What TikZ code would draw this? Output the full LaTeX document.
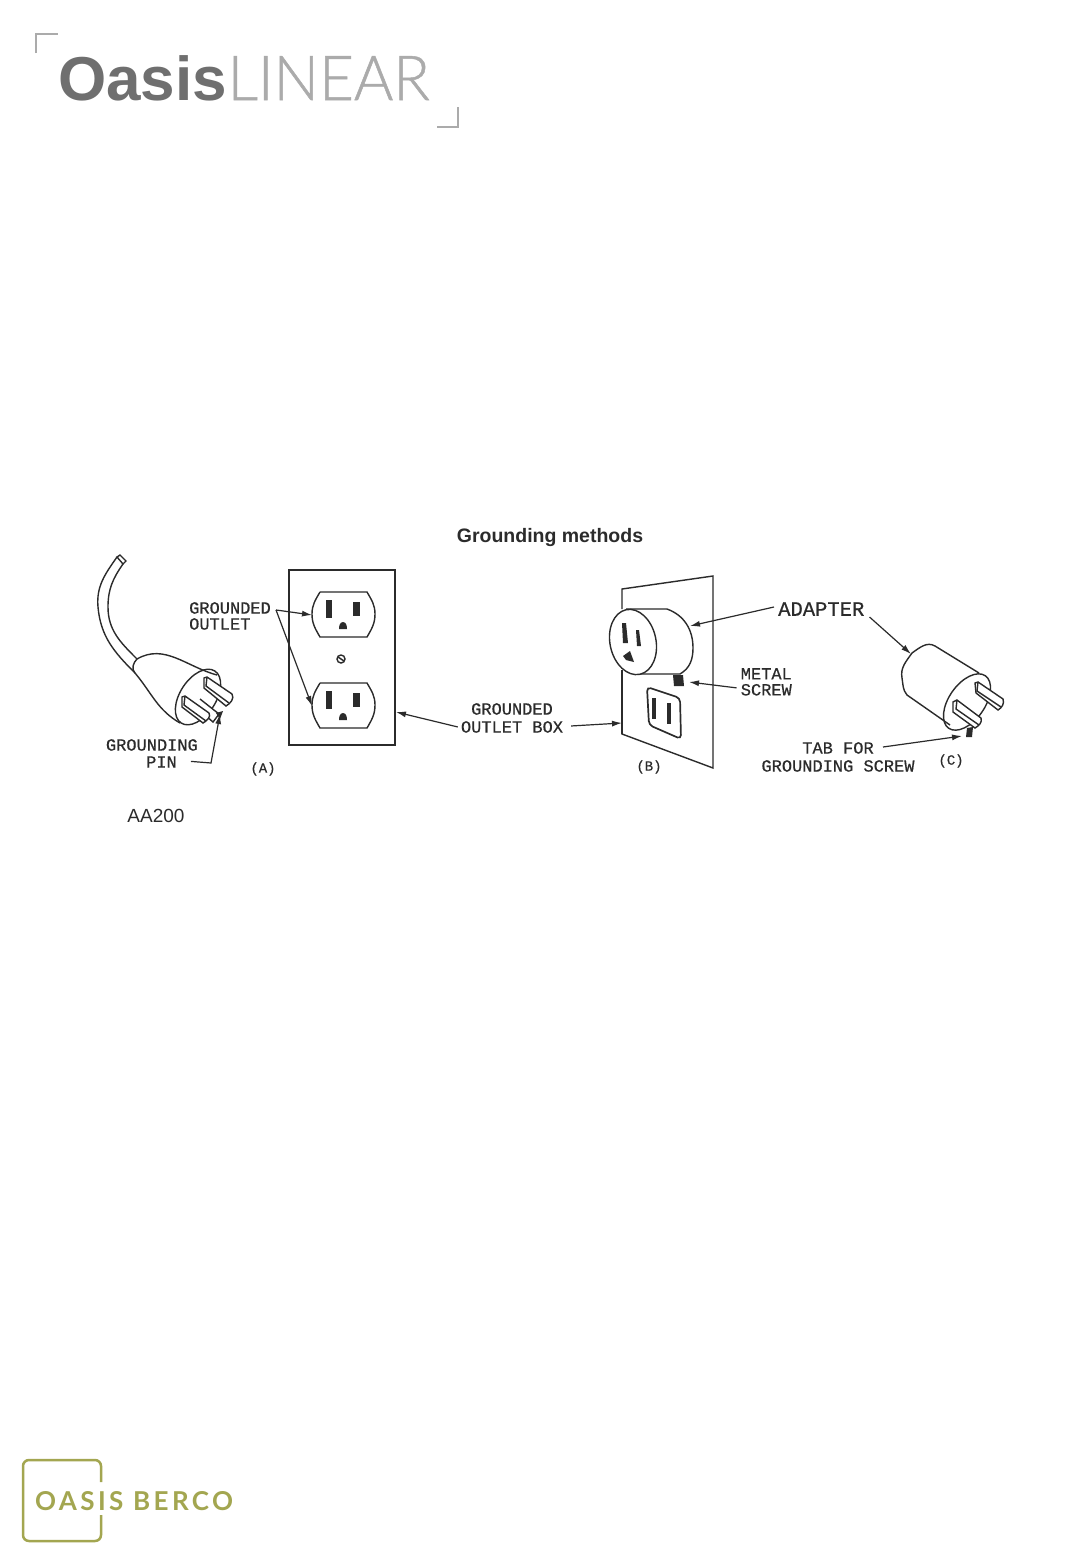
\documentclass[tikz,border=0pt]{standalone}
\usepackage{fontspec}
\usetikzlibrary{arrows.meta}
\setmainfont{Liberation Sans}
\newfontfamily\drawfont[FakeBold=0.5]{Liberation Mono}
\newfontfamily\lightfont[FakeBold=0.8]{Lato Light}
\newfontfamily\bercofont[LetterSpace=13]{Lato Bold}
\definecolor{logogray}{HTML}{6F6F6F}
\definecolor{logolight}{HTML}{ABABAB}
\definecolor{berco}{HTML}{A3A650}
\definecolor{inkgray}{HTML}{2B2B2B}
\tikzset{
	callout/.style={font=\drawfont\fontsize{17}{16}\selectfont, text=inkgray, inner sep=0pt, align=center},
	partname/.style={font=\drawfont\fontsize{14}{16}\selectfont, text=inkgray, inner sep=0pt},
	leader/.style={-{Latex[length=10pt,width=6pt]}, line width=1.2pt, color=inkgray},
	outline/.style={line width=1.4pt, color=inkgray},
	bracket/.style={line width=1.5pt, color=logolight}
}
\begin{document}
\begin{tikzpicture}[x=1pt,y=-1pt]
	\useasboundingbox (0,0) rectangle (1081,1561);
	\fill[white] (0,0) rectangle (1081,1561);
	\draw[bracket] (36,53) -- (36,34) -- (58,34);
	\draw[bracket] (437,127) -- (458,127) -- (458,107);
	\node[anchor=base west, inner sep=0pt, text=logogray, font=\bfseries\fontsize{62}{62}\selectfont] (oasis) at (58,100) {Oasis};
	\node[anchor=base west, inner sep=0pt, text=logolight, xscale=0.97, font=\lightfont\fontsize{62}{62}\selectfont] (linear) at (oasis.base east) {LINEAR};
	\node[inner sep=0pt, text=inkgray, font=\bfseries\fontsize{19.5}{20}\selectfont] (title) at (550,537) {Grounding methods};
	% plug (A)
	\draw[outline] (117,557) -- (120,555) -- (126,561) -- (123,564) -- cycle;
	\draw[outline] (117,557) to[out=-125, in=95] (98,607) to[out=-85, in=135] (135,673);
	\draw[outline] (123,564) to[out=-125, in=90] (108,607) to[out=-90, in=135] (137,659);
	\draw[outline] (137,659) to[out=30, in=165] (217,675);
	\draw[outline] (137,659) to[out=-135, in=135] (135,673);
	\draw[outline] (135,673) to[out=-50, in=150] (180,723);
	\draw[outline] (198,697) ellipse [x radius=31, y radius=18, rotate=57];
	\draw[outline, fill=white] (204,678) -- (207,677) -- (232,694) to[out=-60, in=30] (226,706) -- (204,688) -- cycle;
	\draw[outline] (207,677) -- (206,686) -- (229,703);
	\draw[outline, fill=white] (200,699) -- (219,714) -- (213,722) -- (198,709);
	\draw[outline, fill=white] (182,697) -- (185,696) -- (209,713) to[out=-60, in=30] (203,723) -- (182,707) -- cycle;
	\draw[outline] (185,696) -- (184,705) -- (206,721);
	\fill[inkgray] (216,713) -- (223,711) -- (220,719) -- cycle;
	% outlet (A)
	\draw[line width=2pt, color=inkgray] (289,570) rectangle (395,745);
	\foreach \y [count=\n] in {592,683} {
		\coordinate (outlet\n) at (312,\y+23);
		\draw[outline] (320,\y) -- (367,\y) to[out=-60, in=90] (375,\y+22) to[out=-90, in=60] (367,\y+45) -- (320,\y+45) to[out=120, in=-90] (312,\y+22) to[out=90, in=-120] (320,\y);
		\fill[inkgray] (326,\y+8) rectangle (332,\y+26);
		\fill[inkgray] (353,\y+10) rectangle (360,\y+24);
		\fill[inkgray] (339,\y+37) -- (347,\y+37) to[out=90, in=0] (343,\y+30) to[out=180, in=90] (339,\y+37);
	}
	\draw[outline] (341,659) circle (4);
	\draw[line width=1.4pt, color=inkgray] (338,657) -- (344,661);
	\node[partname] (A) at (263,769) {(A)};
	\node[callout, anchor=north west, align=left] (groundedoutlet) at (189,602) {GROUNDED\\OUTLET};
	\draw[leader] ([shift={(5pt,6pt)}]groundedoutlet.east) -- (outlet1);
	\draw[leader] ([shift={(5pt,6pt)}]groundedoutlet.east) -- (outlet2);
	\node[callout, anchor=north east, align=right] (groundingpin) at (198,739) {GROUNDING\\[1pt]PIN\kern21pt};
	\coordinate (pinbend) at (211,763);
	\coordinate (pintip) at (220,714);
	\draw[leader] ([shift={(-7pt,-8pt)}]groundingpin.east) -- (pinbend) -- (pintip);
	\node[font=\fontsize{19}{19}\selectfont, text=inkgray, inner sep=0pt] (partno) at (156,816) {AA200};
	% wall (B)
	\draw[outline] (622,609) -- (622,589) -- (713,576) -- (713,768) -- (622,734) -- (622,670);
	\draw[line width=2pt, color=inkgray] (622,734) -- (622,670);
	\draw[outline] (626,609) -- (667,609) to[out=-20, in=90] (693,648) to[out=-90, in=30] (680,674) -- (636,674);
	\draw[outline, fill=white] (633,642) ellipse [x radius=23, y radius=33, rotate=12];
	\fill[inkgray] (622,623) -- (626,623) -- (628,643) -- (623,643) -- cycle;
	\fill[inkgray] (636,630) -- (639,630) -- (641,646) -- (637,646) -- cycle;
	\fill[inkgray] (623,656) -- (630,651) -- (634,662) -- (626,660) -- cycle;
	\fill[inkgray] (673,675) -- (683,675) -- (684,686) -- (674,686) -- cycle;
	\coordinate (screw) at (689,682);
	\coordinate (adapterB) at (690,626);
	\coordinate (wallB) at (622,723);
	\draw[line width=1.7pt, color=inkgray, rounded corners=4] (647,687) -- (680,698) -- (681,739) -- (649,725) -- cycle;
	\draw[line width=3.5pt, color=inkgray] (654,698) -- (654,719);
	\draw[line width=3.5pt, color=inkgray] (669,703) -- (669,724);
	\node[partname] (B) at (649,767) {(B)};
	\node[callout, align=center, anchor=north] (outletbox) at (512,703) {GROUNDED\\[2pt]OUTLET BOX};
	\coordinate (boxA) at (396,712);
	\draw[leader] (outletbox.west) ++(-3,9) -- (boxA);
	\draw[leader] (outletbox.east) ++(8,8) -- (wallB);
	\node[callout, align=right, anchor=north east] (metalscrew) at (792,668) {METAL\\SCREW};
	\draw[leader] ([shift={(-4pt,-6pt)}]metalscrew.west) -- (screw);
	\node[callout, font=\drawfont\fontsize{20.5}{20}\selectfont, anchor=west] (adapter) at (778,609) {ADAPTER};
	\draw[leader] (adapter.west) ++(-4,-2) -- (adapterB);
	% adapter (C)
	\coordinate (adapterC) at (911,654);
	\draw[leader] ([shift={(5pt,-8pt)}]adapter.east) -- (adapterC);
	\draw[outline] (979,673) -- (935,646) to[out=150, in=35] (912,653) to[out=-125, in=100] (902,678) to[out=-80, in=130] (907,695) -- (950,725);
	\draw[outline] (967,702) ellipse [x radius=32, y radius=18, rotate=55];
	\draw[outline, fill=white] (975,683) -- (978,682) -- (1003,699) to[out=-70, in=30] (998,710) -- (976,693) -- cycle;
	\draw[outline] (978,682) -- (977,691) -- (1001,707);
	\draw[outline, fill=white] (953,702) -- (957,700) -- (981,718) to[out=-70, in=30] (975,728) -- (953,712) -- cycle;
	\draw[outline] (957,700) -- (956,709) -- (979,725);
	\fill[inkgray] (967,728) -- (973,727) -- (972,737) -- (966,737) -- cycle;
	\coordinate (tabC) at (962,736);
	\node[partname] (C) at (951,761) {(C)};
	\node[callout, align=center, anchor=north] (tabfor) at (838,742) {TAB FOR\\[2pt]GROUNDING SCREW};
	\draw[leader] ([shift={(45pt,-5pt)}]tabfor.north) -- (tabC);
	% footer logo
	\draw[color=berco, line width=2.5pt, rounded corners=6] (101,1482) -- (101,1460) -- (23,1460) -- (23,1541) -- (101,1541) -- (101,1515);
	\node[anchor=base west, inner sep=0pt, text=berco, font=\bercofont\fontsize{26}{26}\selectfont] (oasisberco) at (35,1510) {OASIS BERCO};
\end{tikzpicture}
\end{document}
